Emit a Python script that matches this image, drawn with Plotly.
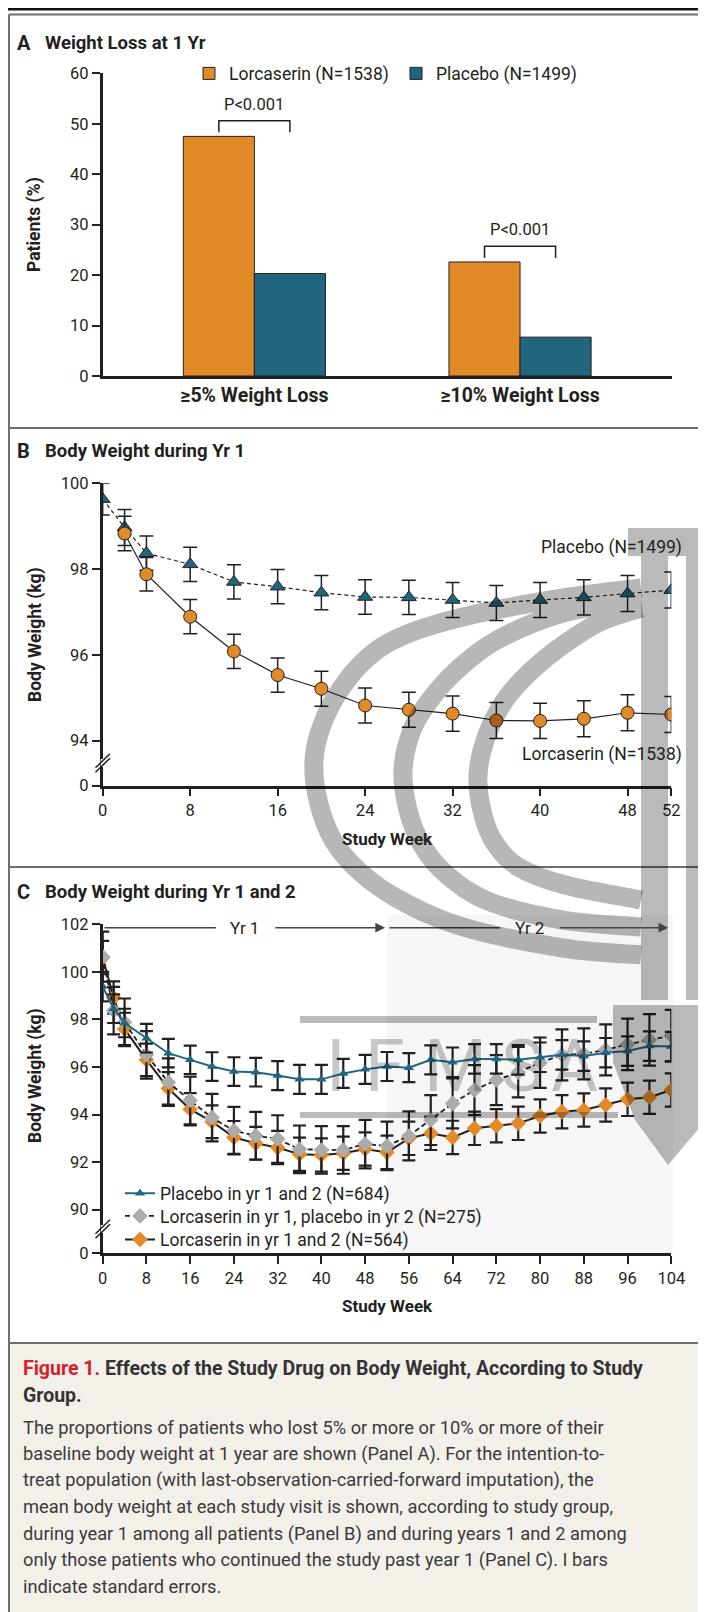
import plotly.graph_objects as go

# ---------------- data ----------------
# Panel A
categories_a = ["≥5% Weight Loss", "≥10% Weight Loss"]
lorc_pct = [47.5, 22.6]
plac_pct = [20.3, 7.7]
pvals_a = ["P<0.001", "P<0.001"]
legend_a = ["Lorcaserin (N=1538)", "Placebo (N=1499)"]

# Panel B (year 1, all patients)
weeks_b_plac = [0, 2, 4, 8, 12, 16, 20, 24, 28, 32, 36, 40, 44, 48, 52]
plac_b = [99.63, 98.97, 98.37, 98.11, 97.70, 97.59, 97.45, 97.35, 97.34, 97.28, 97.21, 97.28, 97.34, 97.43, 97.51]
plac_b_se = [0.37, 0.42, 0.40, 0.40, 0.40, 0.40, 0.40, 0.40, 0.40, 0.41, 0.41, 0.41, 0.41, 0.42, 0.42]
weeks_b_lorc = [2, 4, 8, 12, 16, 20, 24, 28, 32, 36, 40, 44, 48, 52]
lorc_b = [98.83, 97.88, 96.89, 96.08, 95.53, 95.21, 94.82, 94.72, 94.63, 94.47, 94.46, 94.51, 94.65, 94.61]
lorc_b_se = [0.40, 0.39, 0.40, 0.40, 0.40, 0.41, 0.41, 0.41, 0.41, 0.42, 0.41, 0.42, 0.42, 0.42]
label_b = ["Placebo (N=1499)", "Lorcaserin (N=1538)"]

# Panel C (years 1 and 2, continuers)
weeks_c = [0, 2, 4, 8, 12, 16, 20, 24, 28, 32, 36, 40, 44, 48, 52, 56, 60, 64, 68, 72, 76, 80, 84, 88, 92, 96, 100, 104]
plac_c = [99.38, 98.45, 97.85, 97.21, 96.58, 96.30, 96.02, 95.81, 95.78, 95.64, 95.48, 95.48, 95.73, 95.90,
          96.02, 95.97, 96.30, 96.20, 96.34, 96.34, 96.30, 96.41, 96.51, 96.46, 96.60, 96.67, 96.88, 96.86]
plac_c_se = [0.62, 0.60, 0.60, 0.60, 0.60, 0.60, 0.60, 0.60, 0.60, 0.61, 0.61, 0.61, 0.61, 0.61,
             0.61, 0.61, 0.61, 0.62, 0.62, 0.62, 0.62, 0.62, 0.62, 0.62, 0.62, 0.62, 0.62, 0.62]
lp_c = [100.64, 98.37, 97.88, 96.51, 95.36, 94.59, 93.87, 93.32, 93.11, 92.97, 92.54, 92.51, 92.51, 92.76,
        92.68, 93.10, 93.77, 94.47, 95.03, 95.45, 95.78, 96.18, 96.51, 96.55, 96.72, 96.95, 97.14, 97.32]
lp_c_se = [1.05, 1.0, 1.0, 1.0, 1.0, 1.0, 1.0, 1.0, 1.0, 1.0, 1.0, 1.0, 1.0, 1.02,
           1.02, 1.03, 1.05, 1.05, 1.05, 1.05, 1.06, 1.06, 1.07, 1.07, 1.07, 1.08, 1.08, 1.08]
ll_c = [100.60, 98.92, 97.60, 96.30, 95.10, 94.22, 93.70, 93.04, 92.79, 92.61, 92.33, 92.30, 92.37, 92.55,
        92.41, 93.00, 93.21, 93.04, 93.42, 93.53, 93.63, 93.94, 94.12, 94.19, 94.40, 94.64, 94.73, 95.03]
ll_c_se = [0.70, 0.68, 0.68, 0.68, 0.68, 0.68, 0.69, 0.69, 0.69, 0.70, 0.70, 0.70, 0.70, 0.70,
           0.70, 0.70, 0.70, 0.70, 0.70, 0.70, 0.70, 0.70, 0.70, 0.70, 0.70, 0.70, 0.70, 0.70]
legend_c = ["Placebo in yr 1 and 2 (N=684)", "Lorcaserin in yr 1, placebo in yr 2 (N=275)", "Lorcaserin in yr 1 and 2 (N=564)"]

ticks_a_y = [0, 10, 20, 30, 40, 50, 60]
ticks_b_x = [0, 8, 16, 24, 32, 40, 48, 52]
ticks_b_y = [94, 96, 98, 100]
ticks_c_x = [0, 8, 16, 24, 32, 40, 48, 56, 64, 72, 80, 88, 96, 104]
ticks_c_y = [90, 92, 94, 96, 98, 100, 102]

caption_title = ("<span style='color:#D2232A'>Figure 1.</span> Effects of the Study Drug on Body Weight, According to Study",
                 "Group.")
caption_body = [
    "The proportions of patients who lost 5% or more or 10% or more of their",
    "baseline body weight at 1 year are shown (Panel A). For the intention-to-",
    "treat population (with last-observation-carried-forward imputation), the",
    "mean body weight at each study visit is shown, according to study group,",
    "during year 1 among all patients (Panel B) and during years 1 and 2 among",
    "only those patients who continued the study past year 1 (Panel C). I bars",
    "indicate standard errors.",
]

# ---------------- style ----------------
W, H = 706, 1612
OX, OY = 8, 8          # page body margin offset of the plot div
def px(x): return max(x - OX, 0.5) / W
def py(y): return 1 - max(y - OY, 0.5) / H

ORANGE = "#E38A28"
TEAL = "#22657F"
GRAYD = "#ABABAB"
INK = "#231F20"
FONT = "Roboto, 'Open Sans', sans-serif"

fig = go.Figure()

# ---------- Panel A ----------
xa = list(range(len(categories_a)))
bw = 0.2675
fig.add_trace(go.Bar(x=xa, y=lorc_pct, offset=-bw, width=bw, name=legend_a[0],
                     marker=dict(color=ORANGE, line=dict(color=INK, width=1)),
                     xaxis="x", yaxis="y", legend="legend"))
fig.add_trace(go.Bar(x=xa, y=plac_pct, offset=0, width=bw, name=legend_a[1],
                     marker=dict(color=TEAL, line=dict(color=INK, width=1)),
                     xaxis="x", yaxis="y", legend="legend2"))

shapes = []
annotations = []
for i in xa:
    top = lorc_pct[i] + 3.1
    bot = lorc_pct[i] + 0.8
    shapes.append(dict(type="path", xref="x", yref="y",
                       path=f"M{i - bw/2},{bot} L{i - bw/2},{top} L{i + bw/2},{top} L{i + bw/2},{bot}",
                       line=dict(color=INK, width=1.5)))
    annotations.append(dict(x=i, y=lorc_pct[i] + 6.4, xref="x", yref="y", text=pvals_a[i],
                            showarrow=False, font=dict(family=FONT, size=16.5, color=INK)))

# ---------- Panel B ----------
err_b = dict(type="data", thickness=1.5, width=7, color=INK)
fig.add_trace(go.Scatter(x=weeks_b_plac, y=plac_b, mode="lines+markers", showlegend=False,
                         error_y=dict(array=plac_b_se, **err_b),
                         line=dict(color=INK, width=1.2, dash="4px,3px"),
                         marker=dict(symbol="triangle-up", size=13, color=TEAL, line=dict(color=INK, width=1)),
                         xaxis="x2", yaxis="y2"))
fig.add_trace(go.Scatter(x=weeks_b_lorc, y=lorc_b, mode="lines+markers", showlegend=False,
                         error_y=dict(array=lorc_b_se, **err_b),
                         line=dict(color=INK, width=1.2),
                         marker=dict(symbol="circle", size=13, color=ORANGE, line=dict(color=INK, width=1)),
                         xaxis="x2", yaxis="y2"))
annotations.append(dict(x=px(684), y=py(548), xref="paper", yref="paper", text=label_b[0], xanchor="right",
                        showarrow=False, font=dict(family=FONT, size=17.5, color=INK)))
annotations.append(dict(x=px(684), y=py(754), xref="paper", yref="paper", text=label_b[1], xanchor="right",
                        showarrow=False, font=dict(family=FONT, size=17.5, color=INK)))

# ---------- Panel C ----------
err_c = dict(type="data", thickness=2.2, width=6.5, color=INK)
fig.add_trace(go.Scatter(x=weeks_c, y=ll_c, mode="lines+markers", name=legend_c[2], legend="legend5",
                         error_y=dict(array=ll_c_se, **err_c),
                         line=dict(color=INK, width=2),
                         marker=dict(symbol="diamond", size=12, color=ORANGE),
                         xaxis="x3", yaxis="y3"))
fig.add_trace(go.Scatter(x=weeks_c, y=lp_c, mode="lines+markers", name=legend_c[1], legend="legend4",
                         error_y=dict(array=lp_c_se, **err_c),
                         line=dict(color=INK, width=1.8, dash="5px,3px"),
                         marker=dict(symbol="diamond", size=12, color=GRAYD),
                         xaxis="x3", yaxis="y3"))
fig.add_trace(go.Scatter(x=weeks_c, y=plac_c, mode="lines+markers", name=legend_c[0], legend="legend3",
                         error_y=dict(array=plac_c_se, **err_c),
                         line=dict(color=TEAL, width=2),
                         marker=dict(symbol="triangle-up", size=9, color=TEAL),
                         xaxis="x3", yaxis="y3"))

# Yr 1 / Yr 2 arrows
yarr = 101.86
for (x0, x1, xt0, xt1, label) in [(0.33, 51.65, 20.7, 31.3, "Yr 1"), (52.45, 103.45, 72.7, 83.3, "Yr 2")]:
    shapes.append(dict(type="line", xref="x3", yref="y3", x0=x0, x1=xt0, y0=yarr, y1=yarr,
                       line=dict(color="#444", width=1.5)))
    annotations.append(dict(x=x1, y=yarr, ax=xt1, ay=yarr, xref="x3", yref="y3", axref="x3", ayref="y3",
                            text="", showarrow=True, arrowhead=2, arrowsize=1.3, arrowwidth=1.5,
                            arrowcolor="#444", standoff=0, startstandoff=0))
    annotations.append(dict(x=(xt0 + xt1) / 2, y=yarr, xref="x3", yref="y3", text=label, showarrow=False,
                            font=dict(family=FONT, size=17, color=INK)))

# ---------- axes ----------
ax_common = dict(showline=True, linecolor=INK, linewidth=2.5, ticks="outside", ticklen=8, tickwidth=2,
                 tickcolor=INK, showgrid=False, zeroline=False,
                 tickfont=dict(family=FONT, size=16.5, color=INK))
fig.update_layout(
    xaxis=dict(domain=[px(102.7), px(672)], range=[-0.571, 1.572], tickvals=xa, ticktext=categories_a,
               showline=True, linecolor=INK, linewidth=2.5, ticks="", showgrid=False, zeroline=False,
               tickfont=dict(family=FONT, size=19.5, color=INK, weight="bold"), anchor="y"),
    yaxis=dict(domain=[py(376), py(73.3)], range=[0, 60], tickvals=ticks_a_y, anchor="x", **ax_common),
    xaxis2=dict(domain=[px(102.7), px(671.3)], range=[0, 52], tickvals=ticks_b_x, anchor="y2", **ax_common),
    yaxis2=dict(domain=[py(785.7), py(483.3)], range=[92.95, 100],
                tickvals=[92.95] + ticks_b_y, ticktext=["0"] + [str(v) for v in ticks_b_y], anchor="x2", **ax_common),
    xaxis3=dict(domain=[px(102.7), px(671.3)], range=[0, 104], tickvals=ticks_c_x, anchor="y3", **ax_common),
    yaxis3=dict(domain=[py(1253.3), py(924.3)], range=[88.166, 102],
                tickvals=[88.166] + ticks_c_y, ticktext=["0"] + [str(v) for v in ticks_c_y], anchor="x3", **ax_common),
)

# axis titles & panel titles
def txt(x, y, s, size, bold=False, angle=0, xanchor="center", color=INK, weight=None):
    annotations.append(dict(x=px(x), y=py(y), xref="paper", yref="paper", text=s, showarrow=False,
                            xanchor=xanchor, yanchor="middle", textangle=angle,
                            font=dict(family=FONT, size=size, color=color,
                                      weight=weight if weight else ("bold" if bold else "normal"))))

txt(35, 225, "Patients (%)", 17.5, bold=True, angle=-90)
txt(35, 635, "Body Weight (kg)", 17.5, bold=True, angle=-90)
txt(35, 1076, "Body Weight (kg)", 17.5, bold=True, angle=-90)
txt(387, 839, "Study Week", 17, bold=True)
txt(387, 1306, "Study Week", 17, bold=True)
txt(15, 43, "A", 20, bold=True, xanchor="left")
txt(43, 43, "Weight Loss at 1 Yr", 18.5, bold=True, xanchor="left")
txt(15, 451, "B", 20, bold=True, xanchor="left")
txt(43, 451, "Body Weight during Yr 1", 18.5, bold=True, xanchor="left")
txt(15, 892, "C", 20, bold=True, xanchor="left")
txt(43, 892, "Body Weight during Yr 1 and 2", 18.5, bold=True, xanchor="left")

# caption
txt(20.5, 1368, caption_title[0], 19.5, bold=True, xanchor="left", color="#333")
txt(20.5, 1395, caption_title[1], 19.5, bold=True, xanchor="left", color="#333")
for i, line in enumerate(caption_body):
    txt(20.5, 1427 + i * 26.65, line, 18.3, xanchor="left", color="#3a3a3a")

# frame, background, axis breaks
P = dict(xref="paper", yref="paper")
shapes = [dict(type="rect", x0=0, x1=1, y0=0, y1=py(1343), fillcolor="#F3F0EA", line=dict(width=0), layer="below", **P),
          dict(type="rect", x0=px(387), x1=px(673), y0=py(1253), y1=py(915), fillcolor="rgba(0,0,0,0.035)",
               line=dict(width=0), layer="below", **P)] + shapes
shapes += [
    dict(type="line", x0=0, x1=1, y0=1 - 1.3 / H, y1=1 - 1.3 / H, line=dict(color="#111", width=2.5), **P),
    dict(type="line", x0=px(9), x1=1, y0=py(14.5), y1=py(14.5), line=dict(color="#6E6E6E", width=2), **P),
    dict(type="line", x0=px(9), x1=1, y0=py(428), y1=py(428), line=dict(color="#6E6E6E", width=2), **P),
    dict(type="line", x0=px(9), x1=1, y0=py(867), y1=py(867), line=dict(color="#6E6E6E", width=2), **P),
    dict(type="line", x0=px(9), x1=1, y0=py(1343), y1=py(1343), line=dict(color="#6E6E6E", width=2), **P),
    dict(type="line", x0=px(9), x1=px(9), y0=py(14.5), y1=0, line=dict(color="#6E6E6E", width=2), **P),
]
for yb in (763, 1229):
    shapes.append(dict(type="line", x0=px(102.7), x1=px(102.7), y0=py(yb - 4), y1=py(yb + 4),
                       line=dict(color="white", width=4), **P))
    for d in (-2.2, 2.2):
        shapes.append(dict(type="line", x0=px(95.5), x1=px(110), y0=py(yb + d + 7), y1=py(yb + d - 7),
                           line=dict(color=INK, width=1.5), **P))

# ---- faint watermark (gray globe logo seen in the source image) ----
def P2(x, y):
    return f"{px(x):.5f},{py(y):.5f}"

def smooth(pts):
    d = f"M{P2(*pts[0])}"
    n = len(pts)
    for i in range(n - 1):
        p0 = pts[i - 1] if i > 0 else pts[i]
        p1, p2 = pts[i], pts[i + 1]
        p3 = pts[i + 2] if i + 2 < n else p2
        c1 = (p1[0] + (p2[0] - p0[0]) / 6, p1[1] + (p2[1] - p0[1]) / 6)
        c2 = (p2[0] - (p3[0] - p1[0]) / 6, p2[1] - (p3[1] - p1[1]) / 6)
        d += f" C{P2(*c1)} {P2(*c2)} {P2(*p2)}"
    return d + " "

arc_a = [(641, 955), (563, 948), (463, 927), (400, 900), (360, 872), (333, 840), (318, 800), (314, 760),
         (322, 725), (340, 690), (365, 660), (400, 637), (463, 617), (563, 598), (641, 588)]
arc_b = [(641, 927), (563, 920), (490, 902), (447, 875), (422, 845), (408, 810), (403, 770),
         (412, 730), (430, 700), (457, 670), (497, 640), (563, 613), (641, 600)]
arc_c = [(641, 900), (565, 885), (520, 868), (496, 845), (483, 815), (478, 775),
         (487, 735), (505, 700), (530, 672), (563, 645), (600, 622), (641, 608)]
shapes.append(dict(type="path", path=smooth(arc_a) + smooth(arc_b) + smooth(arc_c),
                   line=dict(color="black", width=19), opacity=0.28, layer="above", **P))

def R(x0, y0, x1, y1):
    return f"M{P2(x0, y0)} L{P2(x1, y0)} L{P2(x1, y1)} L{P2(x0, y1)} Z "
blocks = (R(628, 528, 706, 556) + R(641, 556, 668, 1000) + R(686, 556, 706, 1000) +
          R(300, 1016, 597, 1023) + R(300, 1112, 618, 1118) +
          f"M{P2(613, 1005)} L{P2(706, 1005)} L{P2(706, 1120)} L{P2(668, 1165)} L{P2(635, 1120)} L{P2(613, 1062)} Z")
shapes.append(dict(type="path", path=blocks, fillcolor="black", line=dict(width=0), opacity=0.27, layer="above", **P))
for ch, xc in zip("IFMSA", (336, 385, 455, 522, 574)):
    txt(xc, 1066, ch, 72, color="rgba(0,0,0,0.22)", weight=400)

leg_common = dict(bgcolor="rgba(0,0,0,0)", xanchor="left", yanchor="middle", orientation="v")
fig.update_layout(
    width=W, height=H, margin=dict(l=0, r=0, t=0, b=0, autoexpand=False),
    paper_bgcolor="white", plot_bgcolor="rgba(0,0,0,0)",
    font=dict(family=FONT, color=INK),
    shapes=shapes, annotations=annotations,
    barmode="overlay",
    legend=dict(x=px(189), y=py(73.5), font=dict(family=FONT, size=17.5, color=INK), **leg_common),
    legend2=dict(x=px(396), y=py(73.5), font=dict(family=FONT, size=17.5, color=INK), **leg_common),
    legend3=dict(x=px(120), y=py(1193.3), font=dict(family=FONT, size=17.5, color=INK), **leg_common),
    legend4=dict(x=px(120), y=py(1216), font=dict(family=FONT, size=17.5, color=INK), **leg_common),
    legend5=dict(x=px(120), y=py(1239.5), font=dict(family=FONT, size=17.5, color=INK), **leg_common),
)

fig.write_html("out.html")
